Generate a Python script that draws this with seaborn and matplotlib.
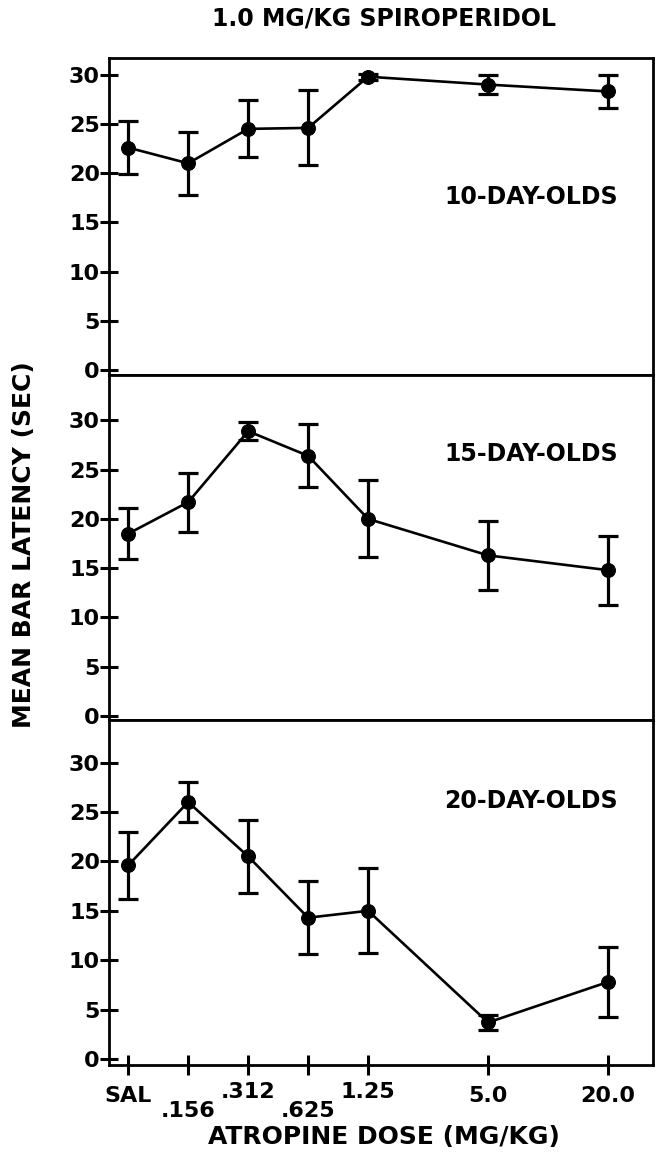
import matplotlib
matplotlib.use("Agg")
import matplotlib.pyplot as plt
import seaborn as sns
import pandas as pd

# dose categories and their spacing on the x axis
doses = ["SAL", ".156", ".312", ".625", "1.25", "5.0", "20.0"]
dose_pos = [0, 1, 2, 3, 4, 6, 8]

# mean bar latency (sec) and error for each age group
mean_10 = [22.6, 21.0, 24.5, 24.6, 29.8, 29.0, 28.3]
err_10 = [2.7, 3.2, 2.9, 3.8, 0.3, 1.0, 1.7]

mean_15 = [18.5, 21.7, 28.9, 26.4, 20.0, 16.3, 14.8]
err_15 = [2.6, 3.0, 0.9, 3.2, 3.9, 3.5, 3.5]

mean_20 = [19.6, 26.0, 20.5, 14.3, 15.0, 3.7, 7.8]
err_20 = [3.4, 2.0, 3.7, 3.7, 4.3, 0.8, 3.5]

groups = ["10-DAY-OLDS", "15-DAY-OLDS", "20-DAY-OLDS"]
means = [mean_10, mean_15, mean_20]
errs = [err_10, err_15, err_20]

sns.set_theme(style="white")
plt.rcParams["font.family"] = ["DejaVu Sans"]
plt.rcParams["font.weight"] = "bold"
plt.rcParams["text.color"] = "black"

fig = plt.figure(figsize=(6.58, 11.52), dpi=100)

W, H = 658, 1152
left, right = 109, 653
# top / bottom pixel rows of each panel
panel_rows = [(58, 375), (375, 720), (720, 1065)]
ylims = [(-0.5, 31.7), (-0.4, 34.6), (-0.6, 34.3)]
label_y = [0.56, 0.77, 0.765]

axes = []
for i, (top, bot) in enumerate(panel_rows):
    ax = fig.add_axes([left / W, 1 - bot / H, (right - left) / W, (bot - top) / H])
    axes.append(ax)

    df = pd.DataFrame({"dose": dose_pos, "latency": means[i], "err": errs[i]})

    ax.errorbar(df["dose"], df["latency"], yerr=df["err"], fmt="none",
                ecolor="black", elinewidth=2.3, capsize=7, capthick=2.3, zorder=2)
    sns.lineplot(data=df, x="dose", y="latency", ax=ax, color="black",
                 linewidth=1.9, marker="o", markersize=10, markeredgecolor="black",
                 zorder=3)

    ax.set_xlim(-0.32, 8.75)
    ax.set_ylim(*ylims[i])
    ax.set_yticks([0, 5, 10, 15, 20, 25, 30])
    ax.set_yticklabels(["0", "5", "10", "15", "20", "25", "30"],
                       fontsize=16, fontweight="bold", color="black")
    ax.tick_params(axis="y", direction="inout", length=13, width=2.2, pad=0,
                   left=True, colors="black")
    ax.set_xlabel("")
    ax.set_ylabel("")

    for side in ["left", "right", "top", "bottom"]:
        ax.spines[side].set_visible(True)
        ax.spines[side].set_color("black")
        ax.spines[side].set_linewidth(2.0)

    ax.text(0.935, label_y[i], groups[i], transform=ax.transAxes,
            ha="right", va="center", fontsize=17, fontweight="bold", color="black")

    if i < 2:
        ax.set_xticks([])
    else:
        ax.set_xticks(dose_pos)
        ax.set_xticklabels(doses, fontsize=16, fontweight="bold", color="black")
        ax.tick_params(axis="x", direction="inout", length=14, width=2.2,
                       bottom=True, colors="black")
        # staggered dose labels
        pads = [8, 19, 5, 19, 5, 8, 8]
        for tick, p in zip(ax.xaxis.get_major_ticks(), pads):
            tick.set_pad(p)

fig.text(384 / W, 1 - 19 / H, "1.0 MG/KG SPIROPERIDOL", ha="center", va="center",
         fontsize=17, fontweight="bold", color="black")
fig.text(384 / W, 1 - 1137 / H, "ATROPINE DOSE (MG/KG)", ha="center", va="center",
         fontsize=18, fontweight="bold", color="black")
fig.text(24 / W, 1 - 545 / H, "MEAN BAR LATENCY (SEC)", ha="center", va="center",
         rotation=90, fontsize=18, fontweight="bold", color="black")

plt.savefig("out.png", dpi=100)
plt.close()
